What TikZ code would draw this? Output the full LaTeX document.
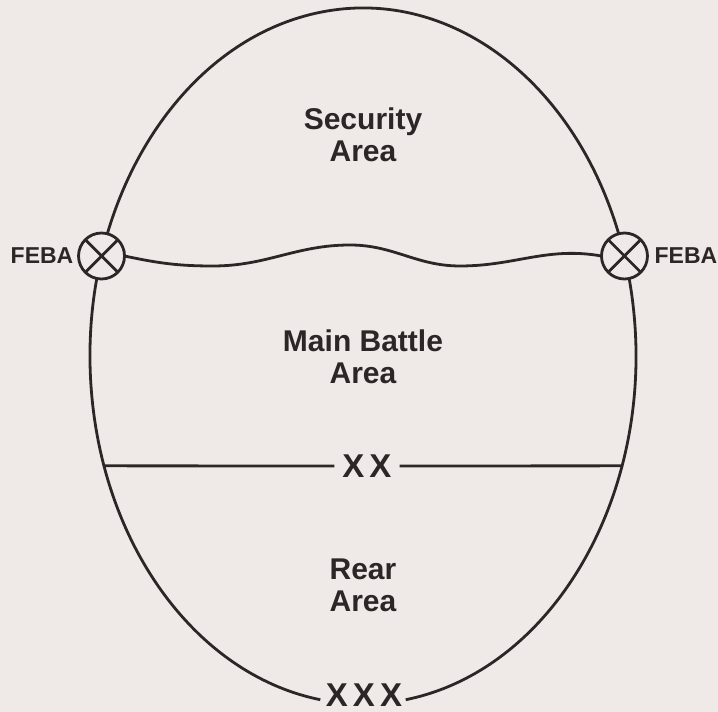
\documentclass[tikz,border=0pt]{standalone}
\usepackage{fontspec}
\setmainfont{Liberation Sans}
\usepackage{tikz}
\usetikzlibrary{positioning}

\definecolor{paper}{RGB}{239,234,232}
\definecolor{ink}{RGB}{45,38,38}

\tikzset{
  bline/.style={draw=ink, line width=2.8pt},
  zonetext/.style={align=center, text=ink, font=\bfseries\fontsize{30}{32}\selectfont},
  echelon/.style={text=ink, inner xsep=8pt, inner ysep=2pt, font=\bfseries\fontsize{33}{36}\selectfont},
  febamark/.style={circle, bline, fill=paper, minimum size=46pt, inner sep=0pt, outer sep=0pt},
  febatext/.style={text=ink, inner sep=1pt, font=\bfseries\fontsize{23}{26}\selectfont}
}

\begin{document}
\begin{tikzpicture}[x=1pt, y=1pt]
\path[use as bounding box, fill=paper] (0,0) rectangle (718,712);

\coordinate (c) at (363,356);

% boundary, open at the bottom for the XXX
\draw[bline] ([shift={(279:273 and 348)}]c) arc[start angle=279, end angle=621, x radius=273, y radius=348];
\node[echelon] (xxx) at (364,17) {X\kern5pt X\kern5pt X};

% division line
\coordinate (xl) at ([shift={(198.4:273 and 348)}]c);
\coordinate (xr) at ([shift={(-18.4:273 and 348)}]c);
\node[echelon] (xx) at (367,246) {X\kern5pt X};
\draw[bline] (xl) -- (xx.west) (xx.east) -- (xr);

% FEBA
\node[febamark] (fl) at ([shift={(163.3:273 and 348)}]c) {};
\node[febamark] (fr) at ([shift={(16.7:273 and 348)}]c) {};
\foreach \m in {fl,fr}
  \draw[bline] (\m.45) -- (\m.225) (\m.135) -- (\m.-45);
\node[febatext, left=4pt of fl] (febal) {FEBA};
\node[febatext, right=6pt of fr] (febar) {FEBA};
\draw[bline] (fl.east) to[out=-12,in=180] (213,446) to[out=0,in=180] (350,467)
  to[out=0,in=180] (460,446) to[out=0,in=170] (fr.west);

% areas
\node[zonetext] (sec) at (363,577) {Security\\Area};
\node[zonetext] (mba) at (363,355) {Main Battle\\Area};
\node[zonetext] (rear) at (363,126.5) {Rear\\Area};
\end{tikzpicture}
\end{document}
